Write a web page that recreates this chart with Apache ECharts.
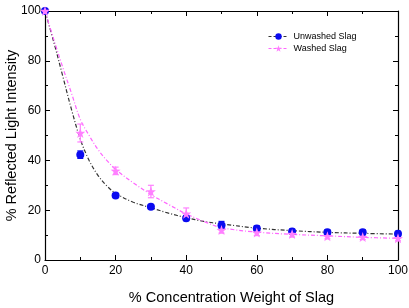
<!DOCTYPE html>
<html><head><meta charset="utf-8">
<script src="https://cdn.jsdelivr.net/npm/echarts@6/dist/echarts.min.js"></script>
<style>html,body{margin:0;padding:0;background:#fff}#c{width:409px;height:308px}</style>
</head><body><div id="c"></div>
<script>
var xPoints = [0,10,20,30,40,50,60,70,80,90,100];
var unwashed = [100,42.3,25.9,21.4,16.8,14.0,12.7,11.4,11.1,11.1,10.5];
var unwashedErr = [0,1.5,0.8,0.8,1.0,1.5,1.0,1.0,1.0,1.0,1.0];
var washed = [100,51.0,35.8,27.5,18.6,12.0,11.0,10.4,9.5,9.2,8.7];
var washedErr = [0,3.6,1.5,2.5,2.3,1.2,1.2,1.2,1.0,1.0,1.0];
var fitX = [0,2.5,5,7.5,10,12.5,15,17.5,20,25,30,35,40,45,50,60,70,80,90,100];
var fitUnwashed = [100,87.5,74,60.5,48.5,40,34,29.8,26.8,23.2,21,18.8,17,15.5,14.5,12.8,11.8,11.1,10.7,10.4];
var fitWashed = [100,88.5,77.5,67,56.5,50,44.4,40,36.4,31,26.3,22.3,18.5,15.5,13,11.2,10.3,9.7,9.1,8.7];
var xTicks = [0,20,40,60,80,100];
var yTicks = [0,20,40,60,80,100];

var BLUE = '#0a0af0', PINK = '#ff80ff', FITK = '#333333', FITP = '#ff66ff';
var FONT = 'Liberation Sans, Arial, sans-serif';

function zip(xs, ys){ return xs.map(function(x,i){return [x, ys[i]];}); }
function errData(xs, ys, es){ return xs.map(function(x,i){return [x, ys[i]-es[i], ys[i]+es[i]];}); }
function errSeries(data, color){
  return {
    type:'custom', silent:true, z:3,
    renderItem:function(params, api){
      var x = api.value(0);
      var lo = api.coord([x, api.value(1)]);
      var hi = api.coord([x, api.value(2)]);
      var w = 3;
      return {type:'group', children:[
        {type:'line', shape:{x1:lo[0],y1:lo[1],x2:hi[0],y2:hi[1]}, style:{stroke:color,lineWidth:1.2}},
        {type:'line', shape:{x1:lo[0]-w,y1:lo[1],x2:lo[0]+w,y2:lo[1]}, style:{stroke:color,lineWidth:1.2}},
        {type:'line', shape:{x1:hi[0]-w,y1:hi[1],x2:hi[0]+w,y2:hi[1]}, style:{stroke:color,lineWidth:1.2}}
      ]};
    },
    encode:{x:0, y:[1,2]},
    data:data
  };
}

var chart = echarts.init(document.getElementById('c'), null, {renderer:'canvas'});
function axisBase(){
  return {
    min:0, max:100, interval:20,
    axisLine:{show:true, onZero:false, lineStyle:{color:'#000', width:1.2}},
    axisTick:{show:true, inside:true, length:5, lineStyle:{color:'#000', width:1}},
    minorTick:{show:true, splitNumber:2, length:3, lineStyle:{color:'#000', width:1}},
    splitLine:{show:false}
  };
}
chart.setOption({
  animation:false,
  grid:{left:45, right:11, top:11, bottom:48, containLabel:false, outerBoundsMode:'none'},
  legend:{
    left:263, top:27, orient:'vertical', itemWidth:20, itemHeight:8, itemGap:3,
    textStyle:{fontFamily:FONT, fontSize:9, color:'#000'},
    data:[
      {name:'Unwashed Slag', lineStyle:{opacity:1, width:1, color:FITK, type:[3,2]}},
      {name:'Washed Slag', lineStyle:{opacity:1, width:1, color:FITP, type:[3,2]}}
    ]
  },
  xAxis:[
    Object.assign(axisBase(), {
      type:'value', position:'bottom',
      name:'% Concentration Weight of Slag', nameLocation:'middle', nameGap:30, nameMoveOverlap:false,
      nameTextStyle:{fontFamily:FONT, fontSize:14.5, color:'#000', padding:[0,0,0,20]},
      axisLabel:{fontFamily:FONT, fontSize:12, color:'#000', margin:5}
    }),
    Object.assign(axisBase(), {
      type:'value', position:'top', axisLabel:{show:false}
    })
  ],
  yAxis:[
    Object.assign(axisBase(), {
      type:'value', position:'left',
      name:'% Reflected Light Intensity', nameLocation:'middle', nameGap:26, nameMoveOverlap:false,
      nameTextStyle:{fontFamily:FONT, fontSize:14.5, color:'#000'},
      axisLabel:{fontFamily:FONT, fontSize:12, color:'#000', margin:4}
    }),
    Object.assign(axisBase(), {
      type:'value', position:'right', axisLabel:{show:false}
    })
  ],
  series:[
    {type:'line', name:'fitU', data:zip(fitX, fitUnwashed), smooth:0.35, symbol:'none', z:2,
     lineStyle:{color:FITK, width:1.2, type:[4,2,1,2]}},
    {type:'line', name:'fitW', data:zip(fitX, fitWashed), smooth:0.35, symbol:'none', z:2,
     lineStyle:{color:FITP, width:1.2, type:[4,2,1,2]}},
    errSeries(errData(xPoints, unwashed, unwashedErr), BLUE),
    errSeries(errData(xPoints, washed, washedErr), PINK),
    {type:'line', name:'Unwashed Slag', data:zip(xPoints, unwashed), symbol:'circle', symbolSize:8, z:4,
     itemStyle:{color:BLUE}, lineStyle:{opacity:0, color:FITK}},
    {type:'line', name:'Washed Slag', data:zip(xPoints, washed), symbol:'path://M0,-10 L2.35,-3.24 L9.51,-3.09 L3.8,1.24 L5.88,8.09 L0,4 L-5.88,8.09 L-3.8,1.24 L-9.51,-3.09 L-2.35,-3.24 Z', symbolSize:10, z:5,
     itemStyle:{color:PINK}, lineStyle:{opacity:0, color:FITP}}
  ]
});
</script></body></html>
